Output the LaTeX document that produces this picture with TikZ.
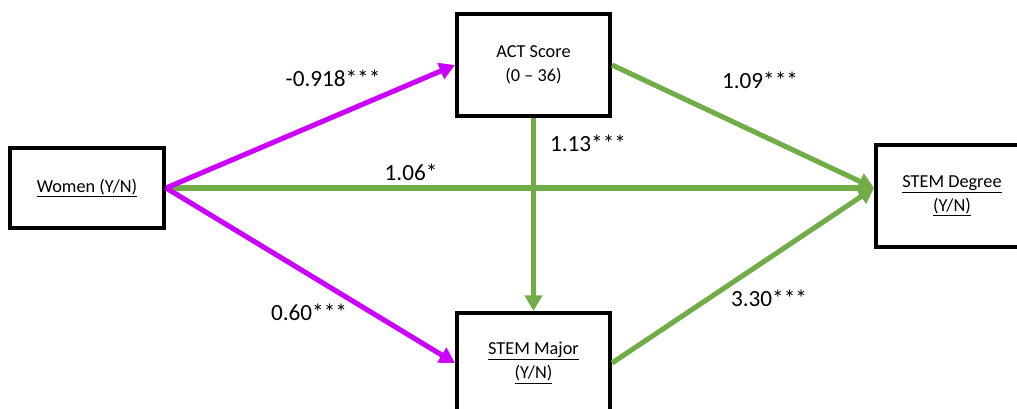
\documentclass[tikz,border=0pt]{standalone}
\usepackage{fontspec}
\setmainfont{Carlito}
\usetikzlibrary{arrows.meta,calc}
\definecolor{purp}{RGB}{204,0,255}
\definecolor{grn}{RGB}{112,173,71}
\tikzset{
  box/.style={draw=black, line width=2.9pt, fill=white, align=center, inner sep=0pt, font=\fontsize{13}{17}\selectfont},
  parr/.style={draw=purp, line width=3.6pt, -{Triangle[length=11pt,width=12pt]}},
  garr/.style={draw=grn, line width=3.6pt, -{Triangle[length=11pt,width=12pt]}},
  lab/.style={font=\fontsize{16.5}{20}\selectfont, inner sep=0pt}
}
\begin{document}
\begin{tikzpicture}[x=0.025cm,y=-0.025cm]
\useasboundingbox (0,0) rectangle (1017,408);
\clip (0,0) rectangle (1017,408);
\node[box, minimum width=154*0.025cm, minimum height=80*0.025cm] (wom) at (87,188) {\underline{Women (Y/N)}};
\node[box, minimum width=153*0.025cm, minimum height=102*0.025cm] (act) at (533.5,65) {ACT Score\\(0 -- 36)};
\node[box, minimum width=152*0.025cm, minimum height=102*0.025cm] (deg) at (952,196) {\underline{STEM Degree}\\\underline{(Y/N)}};
\node[box, minimum width=153*0.025cm, minimum height=100*0.025cm] (maj) at (533.5,363) {\underline{STEM Major}\\\underline{(Y/N)}};
\coordinate (dt) at (deg.west |- wom.east);
\draw[garr] (act.south) -- (maj.north);
\draw[garr] (wom.east) -- (dt);
\draw[garr] (act.east) -- (dt);
\draw[garr] (maj.east) -- (dt);
\draw[parr] (wom.east) -- (act.west);
\draw[parr] (wom.east) -- (maj.west);
\node[lab] (l1) at (333,78) {-0.918***};
\node[lab] (l2) at (760,80) {1.09***};
\node[lab] (l3) at (588,143) {1.13***};
\node[lab] (l4) at (411,172) {1.06*};
\node[lab] (l5) at (309,312) {0.60***};
\node[lab] (l6) at (769,298) {3.30***};
\end{tikzpicture}
\end{document}
